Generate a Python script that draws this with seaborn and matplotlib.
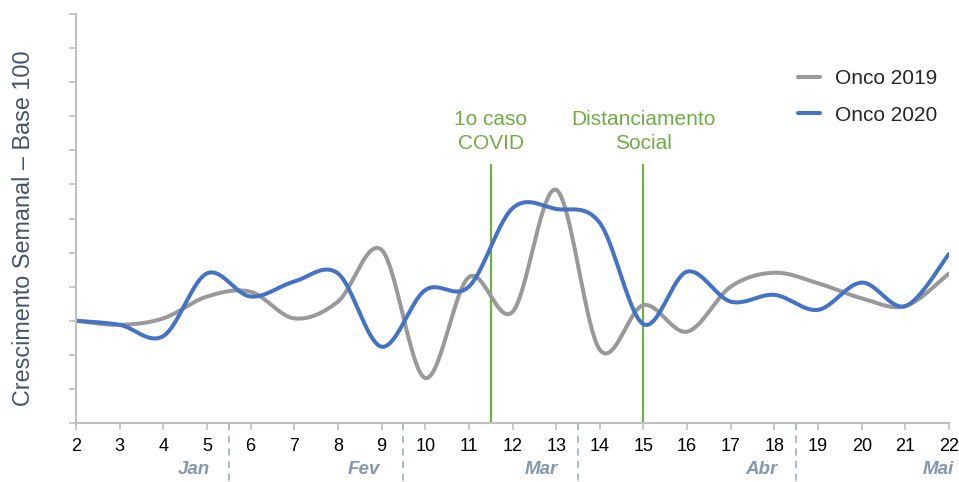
import numpy as np
import pandas as pd
import matplotlib
matplotlib.use("Agg")
import matplotlib.pyplot as plt
import matplotlib.transforms as mtransforms
import seaborn as sns

# ---- data ----
weeks = [2, 3, 4, 5, 6, 7, 8, 9, 10, 11, 12, 13, 14, 15, 16, 17, 18, 19, 20, 21, 22]
onco_2019 = [3.0, 2.88, 3.07, 3.71, 3.85, 3.07, 3.56, 5.08, 1.32, 4.28, 3.26,
             6.84, 2.15, 3.46, 2.68, 4.0, 4.41, 4.1, 3.66, 3.43, 4.39]
onco_2020 = [3.0, 2.88, 2.55, 4.39, 3.71, 4.15, 4.39, 2.24, 3.9, 4.0, 6.3,
             6.28, 5.87, 2.9, 4.44, 3.56, 3.76, 3.32, 4.12, 3.43, 4.96]
series_names = ["Onco 2019", "Onco 2020"]
month_labels = ["Jan", "Fev", "Mar", "Abr", "Mai"]
month_label_pos = [4.7, 8.6, 12.65, 17.7, 21.75]
month_separators = [5.5, 9.5, 13.5, 18.5]
events = ["1o caso\nCOVID", "Distanciamento\nSocial"]
event_weeks = [11.5, 15]
event_top = 7.57
event_label_y = 8.55

sns.set_theme(style="white")
plt.rcParams["font.family"] = ["Liberation Sans", "DejaVu Sans"]


def smooth(xs, ys, n=40):
    """Smoothed (Excel-like Catmull-Rom Bezier) curve through the data points."""
    xs = np.asarray(xs, float)
    ys = np.asarray(ys, float)
    P = np.column_stack([xs, ys])
    m = len(P)
    out = []
    t = np.linspace(0, 1, n, endpoint=False)[:, None]
    for i in range(m - 1):
        p0 = P[i - 1] if i > 0 else P[i]
        p1 = P[i]
        p2 = P[i + 1]
        p3 = P[i + 2] if i + 2 < m else P[i + 1]
        c1 = p1 + (p2 - p0) / 6.0
        c2 = p2 - (p3 - p1) / 6.0
        seg = ((1 - t) ** 3) * p1 + 3 * ((1 - t) ** 2) * t * c1 + 3 * (1 - t) * t ** 2 * c2 + t ** 3 * p2
        out.append(seg)
    out.append(P[-1][None, :])
    return np.vstack(out)


frames = []
for name, vals in zip(series_names, [onco_2019, onco_2020]):
    c = smooth(weeks, vals)
    frames.append(pd.DataFrame({"x": c[:, 0], "y": c[:, 1], "serie": name,
                                "order": np.arange(len(c))}))
df = pd.concat(frames, ignore_index=True)

W, H = 959, 482
fig = plt.figure(figsize=(W / 100, H / 100), dpi=100)
ax = fig.add_axes([76 / W, 59 / H, 873 / W, 409 / H])

palette = {"Onco 2019": "#999999", "Onco 2020": "#4472C4"}
sns.lineplot(data=df, x="x", y="y", hue="serie", palette=palette, estimator=None,
             sort=False, units="serie", linewidth=2.9, ax=ax, legend=False,
             solid_capstyle="round", solid_joinstyle="round")

ax.set_xlim(weeks[0], weeks[-1])
ax.set_ylim(0, 12)
ax.set_xticks(weeks)
ax.set_xticklabels([str(w) for w in weeks], fontsize=13, color="black")
ax.set_yticks(np.arange(0, 13, 1))
ax.set_yticklabels([])
ax.tick_params(axis="both", direction="out", length=5, width=1.2, color="#BFBFBF",
               bottom=True, left=True)
ax.tick_params(axis="x", pad=6)
for s in ["top", "right"]:
    ax.spines[s].set_visible(False)
for s in ["left", "bottom"]:
    ax.spines[s].set_color("#BFBFBF")
    ax.spines[s].set_linewidth(1.5)
ax.set_xlabel("")
ax.set_ylabel("Crescimento Semanal \u2013 Base 100", fontsize=16.8, color="#44546A")
ax.yaxis.set_label_coords(-41 / 873, 195 / 409)

# event lines
for wk, lab in zip(event_weeks, events):
    ax.plot([wk, wk], [0, event_top], color="#70AD47", linewidth=1.6, zorder=1)
    ax.text(wk, event_label_y, lab, ha="center", va="center", fontsize=15,
            color="#70AD47", linespacing=1.3)

# month separators and labels below the axis
trans = mtransforms.blended_transform_factory(ax.transData, ax.transAxes)
for xs in month_separators:
    ax.plot([xs, xs], [0, -59 / 409], transform=trans, clip_on=False,
            color="#A6B4C8", linewidth=1.3, linestyle=(0, (4, 3)))
for xm, lab in zip(month_label_pos, month_labels):
    ax.text(xm, -47 / 409, lab, transform=trans, ha="center", va="center",
            fontsize=13.5, fontweight="bold", fontstyle="italic", color="#8497B0")

# legend
from matplotlib.lines import Line2D
handles = [Line2D([0], [0], color=palette[n], linewidth=2.9) for n in series_names]
fig.legend(handles, series_names, loc="upper left",
           bbox_to_anchor=(798 / W, 1 - 69 / H), frameon=False, fontsize=15,
           handlelength=1.05, handletextpad=0.72, labelspacing=0.85,
           borderpad=0, borderaxespad=0)

fig.savefig("out.png", dpi=100)
